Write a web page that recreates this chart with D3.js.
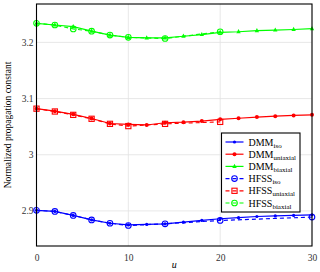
<!DOCTYPE html>
<html>
<head>
<meta charset="utf-8">
<script src="https://cdn.jsdelivr.net/npm/d3@7"></script>
<style>
  body { margin: 0; background: #fff; }
  text { font-family: "Liberation Serif", "DejaVu Serif", serif; }
</style>
</head>
<body>
<div id="chart"></div>
<script>
// data
var uDmm = [0, 2, 4, 6, 8, 10, 12, 14, 16, 18, 20, 22, 24, 26, 28, 30];
var dmmIso = [2.901, 2.899, 2.892, 2.884, 2.878, 2.875, 2.876, 2.877, 2.880, 2.883, 2.886, 2.888, 2.890, 2.891, 2.892, 2.893];
var dmmUni = [3.082, 3.0775, 3.072, 3.0645, 3.0556, 3.054, 3.053, 3.057, 3.058, 3.060, 3.063, 3.065, 3.067, 3.0686, 3.070, 3.071];
var dmmBi = [3.234, 3.231, 3.228, 3.220, 3.213, 3.209, 3.208, 3.208, 3.211, 3.214, 3.218, 3.219, 3.221, 3.222, 3.223, 3.2245];

var uHfssIso = [0, 2, 4, 6, 8, 10, 14, 20, 30];
var hfssIso = [2.901, 2.899, 2.892, 2.884, 2.878, 2.874, 2.877, 2.883, 2.889];
var uHfssUni = [0, 2, 4, 6, 8, 10, 14, 20];
var hfssUni = [3.082, 3.077, 3.071, 3.064, 3.055, 3.051, 3.055, 3.0585];
var uHfssBi = [0, 2, 4, 6, 8, 10, 14, 20];
var hfssBi = [3.234, 3.231, 3.224, 3.220, 3.213, 3.209, 3.207, 3.219];

var xTicks = [0, 10, 20, 30];
var yTicks = [2.9, 3, 3.1, 3.2];

var W = 320, H = 272;
var margin = { top: 4, right: 8, bottom: 26, left: 36.5 },
    width = W - margin.left - margin.right,
    height = H - margin.top - margin.bottom;

var svg = d3.select("#chart").append("svg")
    .attr("width", W).attr("height", H)
  .append("g")
    .attr("transform", "translate(" + margin.left + "," + margin.top + ")");

var x = d3.scaleLinear().domain([0, 30]).range([0, width]);
var y = d3.scaleLinear().domain([2.8375, 3.2684]).range([height, 0]);

// grid
svg.append("g").selectAll("line").data(xTicks).enter().append("line")
    .attr("x1", d => x(d)).attr("x2", d => x(d))
    .attr("y1", 0).attr("y2", height)
    .style("stroke", "#e2e2e2").style("stroke-width", 0.8);
svg.append("g").selectAll("line").data(yTicks).enter().append("line")
    .attr("y1", d => y(d)).attr("y2", d => y(d))
    .attr("x1", 0).attr("x2", width)
    .style("stroke", "#e2e2e2").style("stroke-width", 0.8);

// axes (labels only)
var xAxis = svg.append("g")
    .attr("transform", "translate(0," + height + ")")
    .call(d3.axisBottom(x).tickValues(xTicks).tickSize(0).tickPadding(8).tickFormat(d3.format("d")));
var yAxis = svg.append("g")
    .call(d3.axisLeft(y).tickValues(yTicks).tickSize(0).tickPadding(3).tickFormat(d => String(d)));
[xAxis, yAxis].forEach(function (a) {
    a.select(".domain").remove();
    a.selectAll("text").style("font-family", "'Liberation Serif', serif")
        .style("font-size", "9.5px").style("fill", "#333");
});

// series
var series = [
    { u: uDmm, v: dmmIso, color: "#0000ff", dash: null, marker: "dot", r: 1.6 },
    { u: uDmm, v: dmmUni, color: "#ff0000", dash: null, marker: "dot", r: 2.0 },
    { u: uDmm, v: dmmBi, color: "#00ff00", dash: null, marker: "tri", r: 2.2 },
    { u: uHfssIso, v: hfssIso, color: "#0000ff", dash: "4,3", marker: "circle", r: 2.8 },
    { u: uHfssUni, v: hfssUni, color: "#ff0000", dash: "4,3", marker: "square", r: 2.6 },
    { u: uHfssBi, v: hfssBi, color: "#00ff00", dash: "4,3", marker: "circle", r: 2.8 }
];

var line = d3.line().x(d => x(d[0])).y(d => y(d[1]));

function drawMarker(g, cx, cy, s) {
    if (s.marker === "dot") {
        g.append("circle").attr("cx", cx).attr("cy", cy).attr("r", s.r).style("fill", s.color);
    } else if (s.marker === "tri") {
        var r = s.r;
        g.append("path")
            .attr("d", "M" + cx + "," + (cy - r * 1.2) + "L" + (cx + r) + "," + (cy + r * 0.7) + "L" + (cx - r) + "," + (cy + r * 0.7) + "Z")
            .style("fill", s.color);
    } else if (s.marker === "circle") {
        g.append("circle").attr("cx", cx).attr("cy", cy).attr("r", s.r)
            .style("fill", "none").style("stroke", s.color).style("stroke-width", 1.1);
    } else if (s.marker === "square") {
        g.append("rect").attr("x", cx - s.r).attr("y", cy - s.r)
            .attr("width", 2 * s.r).attr("height", 2 * s.r)
            .style("fill", "none").style("stroke", s.color).style("stroke-width", 1.1);
    }
}

series.forEach(function (s) {
    var pts = s.u.map((u, i) => [u, s.v[i]]);
    svg.append("path").datum(pts).attr("d", line)
        .style("fill", "none").style("stroke", s.color).style("stroke-width", 1.2)
        .style("stroke-dasharray", s.dash);
    var g = svg.append("g");
    pts.forEach(p => drawMarker(g, x(p[0]), y(p[1]), s));
});

// frame
svg.append("rect").attr("width", width).attr("height", height)
    .style("fill", "none").style("stroke", "#000").style("stroke-width", 1.1);

// axis titles
svg.append("text")
    .attr("x", width / 2).attr("y", height + 22)
    .style("text-anchor", "middle").style("font-style", "italic").style("font-size", "10px")
    .text("u");
svg.append("text")
    .attr("transform", "rotate(-90)")
    .attr("x", -height / 2).attr("y", -25.5)
    .style("text-anchor", "middle").style("font-size", "9.5px")
    .text("Normalized propagation constant");

// legend
var names = [["DMM", "iso"], ["DMM", "uniaxial"], ["DMM", "biaxial"], ["HFSS", "iso"], ["HFSS", "uniaxial"], ["HFSS", "biaxial"]];
var lx = 221.5 - margin.left, ly = 133 - margin.top;
var leg = svg.append("g").attr("transform", "translate(" + lx + "," + ly + ")");
leg.append("rect").attr("width", 78.5).attr("height", 79)
    .style("fill", "#fff").style("stroke", "#000").style("stroke-width", 1.1);
names.forEach(function (n, i) {
    var s = series[i];
    var cy = 9 + i * 12.2;
    leg.append("line").attr("x1", 4).attr("x2", 22).attr("y1", cy).attr("y2", cy)
        .style("stroke", s.color).style("stroke-width", 1.2).style("stroke-dasharray", s.dash);
    drawMarker(leg, 13, cy, s);
    var t = leg.append("text").attr("x", 27).attr("y", cy + 3.5).style("font-size", "10px").style("fill", "#000");
    t.append("tspan").text(n[0]);
    t.append("tspan").attr("dy", 2).style("font-size", "7px").text(n[1]);
});
</script>
</body>
</html>
